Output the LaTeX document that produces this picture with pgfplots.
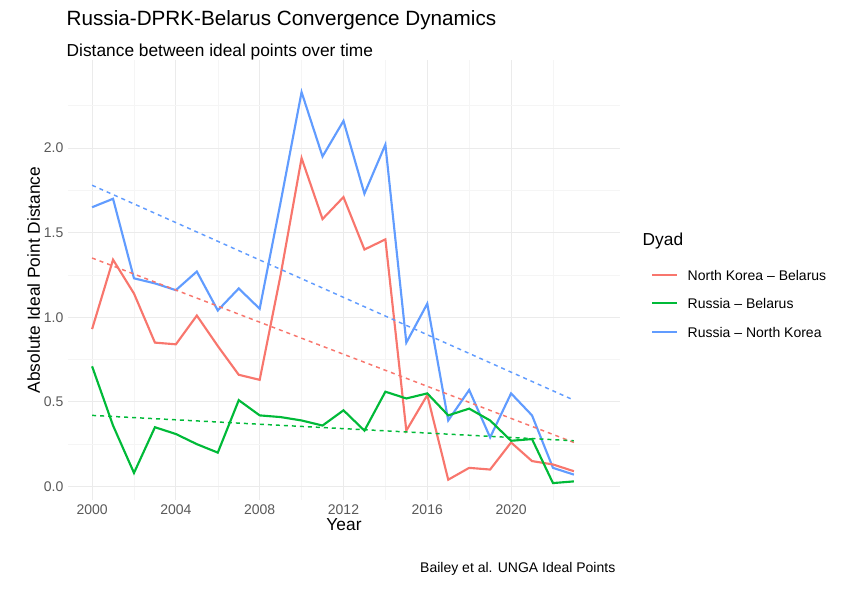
\documentclass[border=0pt]{standalone}
\usepackage{pgfplots}
\pgfplotsset{compat=1.18}
\usepackage{fontspec}
\setmainfont{Liberation Sans}
\definecolor{cr}{HTML}{F8766D}
\definecolor{cg}{HTML}{00BA38}
\definecolor{cb}{HTML}{619CFF}
\definecolor{gr}{HTML}{EBEBEB}
\begin{document}
\begin{tikzpicture}
\path (0,0) rectangle (646.5pt,-441pt);
\begin{axis}[at={(51pt,-45pt)},anchor=north west,scale only axis,
 width=414pt,height=330pt,
 xmin=1998.85,xmax=2025.2,ymin=-0.08,ymax=2.52,
 axis line style={draw=none},tick style={draw=none},
 grid=both,major grid style={gr,line width=0.6pt},
 minor grid style={gr!50,line width=0.3pt},
 minor xtick={2002,2006,2010,2014,2018,2022},
 minor ytick={0.25,0.75,1.25,1.75,2.25},
 xtick={2000,2004,...,2020},ytick={0,0.5,1,1.5,2},
 xticklabel style={/pgf/number format/1000 sep=},
 yticklabel style={/pgf/number format/.cd,fixed,fixed zerofill,precision=1},
 /pgf/number format/assume math mode=true,
 ticklabel style={font=\fontsize{10.5}{12}\selectfont,text=black!65},
 xlabel={Year},ylabel={Absolute Ideal Point Distance},
 label style={font=\fontsize{13}{15}\selectfont},
 xlabel style={yshift=4pt},ylabel style={yshift=-4pt},
 clip=false]
\addplot[cb,line width=1.6pt] coordinates {(2000,1.65)(2001,1.70)(2002,1.23)(2003,1.20)(2004,1.16)(2005,1.27)(2006,1.04)(2007,1.17)(2008,1.05)(2009,1.68)(2010,2.33)(2011,1.95)(2012,2.16)(2013,1.73)(2014,2.02)(2015,0.85)(2016,1.08)(2017,0.39)(2018,0.57)(2019,0.29)(2020,0.55)(2021,0.42)(2022,0.11)(2023,0.07)};
\addplot[cr,line width=1.6pt] coordinates {(2000,0.93)(2001,1.34)(2002,1.14)(2003,0.85)(2004,0.84)(2005,1.01)(2006,0.83)(2007,0.66)(2008,0.63)(2009,1.25)(2010,1.94)(2011,1.58)(2012,1.71)(2013,1.40)(2014,1.46)(2015,0.33)(2016,0.54)(2017,0.04)(2018,0.11)(2019,0.10)(2020,0.26)(2021,0.15)(2022,0.13)(2023,0.09)};
\addplot[cg,line width=1.6pt] coordinates {(2000,0.71)(2001,0.36)(2002,0.08)(2003,0.35)(2004,0.31)(2005,0.25)(2006,0.20)(2007,0.51)(2008,0.42)(2009,0.41)(2010,0.39)(2011,0.36)(2012,0.45)(2013,0.33)(2014,0.56)(2015,0.52)(2016,0.55)(2017,0.42)(2018,0.46)(2019,0.39)(2020,0.27)(2021,0.28)(2022,0.02)(2023,0.03)};
\addplot[cb,line width=1.1pt,dashed] coordinates {(2000,1.78)(2023,0.51)};
\addplot[cr,line width=1.1pt,dashed] coordinates {(2000,1.35)(2023,0.26)};
\addplot[cg,line width=1.1pt,dashed] coordinates {(2000,0.42)(2023,0.27)};
\end{axis}
\node[anchor=west,font=\fontsize{15.5}{18}\selectfont] at (46.5pt,-15pt) {Russia-DPRK-Belarus Convergence Dynamics};
\node[anchor=west,font=\fontsize{13}{15}\selectfont] at (46.5pt,-39pt) {Distance between ideal points over time};
\node[anchor=east,font=\fontsize{10.5}{12}\selectfont] at (465pt,-426.75pt) {Bailey et al. UNGA Ideal Points};
\node[anchor=west,font=\fontsize{13}{15}\selectfont] at (478.5pt,-180.75pt) {Dyad};
\draw[cr,line width=1.6pt] (489pt,-206.25pt) -- (507.75pt,-206.25pt);
\node[anchor=west,font=\fontsize{10.5}{12}\selectfont] at (512.25pt,-206.25pt) {North Korea -- Belarus};
\draw[cg,line width=1.6pt] (489pt,-227.25pt) -- (507.75pt,-227.25pt);
\node[anchor=west,font=\fontsize{10.5}{12}\selectfont] at (512.25pt,-227.25pt) {Russia -- Belarus};
\draw[cb,line width=1.6pt] (489pt,-249pt) -- (507.75pt,-249pt);
\node[anchor=west,font=\fontsize{10.5}{12}\selectfont] at (512.25pt,-249pt) {Russia -- North Korea};
\end{tikzpicture}
\end{document}
